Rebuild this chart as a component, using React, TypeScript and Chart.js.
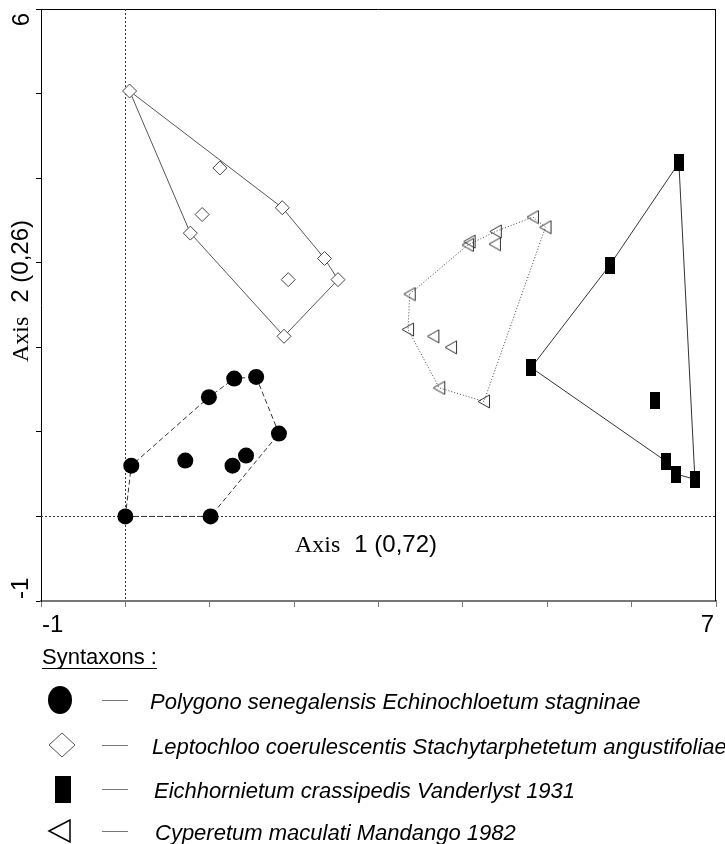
import React, { useEffect, useRef } from "react";
import { Chart, registerables } from "chart.js";

Chart.register(...registerables);

// ---- axis ranges & labels ----
const X_MIN = -1;
const X_MAX = 7;
const Y_MIN = -1;
const Y_MAX = 6;
const X_TICK_LABELS = ["-1", "7"];
const Y_TICK_LABELS = ["6", "-1"];
const AXIS1_TITLE = ["Axis", "1 (0,72)"];
const AXIS2_TITLE = ["Axis", "2 (0,26)"];
const LEGEND_TITLE = "Syntaxons :";

// ---- series ----
const SERIES_NAMES = [
  "Polygono senegalensis Echinochloetum stagninae",
  "Leptochloo coerulescentis Stachytarphetetum angustifoliae",
  "Eichhornietum crassipedis Vanderlyst 1931",
  "Cyperetum maculati Mandango 1982",
];

// Polygono senegalensis Echinochloetum stagninae (filled circles)
const POLY_X = [0.0, 0.07, 0.71, 0.99, 1.29, 1.55, 1.82, 1.43, 1.27, 1.01];
const POLY_Y = [0.0, 0.6, 0.66, 1.41, 1.63, 1.65, 0.98, 0.72, 0.6, 0.0];
const POLY_HULL = [0, 1, 3, 4, 5, 6, 9, 0];

// Leptochloo coerulescentis Stachytarphetetum angustifoliae (open diamonds)
const LEPTO_X = [0.05, 1.12, 0.91, 0.77, 1.86, 2.36, 1.93, 2.52, 1.88];
const LEPTO_Y = [5.03, 4.12, 3.57, 3.35, 3.65, 3.05, 2.8, 2.8, 2.13];
const LEPTO_HULL = [0, 4, 5, 7, 8, 3, 0];

// Eichhornietum crassipedis Vanderlyst 1931 (black rectangles)
const EICH_X = [6.56, 5.74, 4.81, 6.28, 6.41, 6.53, 6.75];
const EICH_Y = [4.18, 2.97, 1.76, 1.37, 0.65, 0.5, 0.44];
const EICH_HULL = [0, 1, 2, 4, 5, 6, 0];

// Cyperetum maculati Mandango 1982 (open left triangles)
const CYPER_X = [3.37, 3.35, 3.65, 3.86, 3.72, 4.25, 4.98, 4.83, 4.39, 4.38, 4.06, 4.08];
const CYPER_Y = [2.63, 2.21, 2.13, 2.0, 1.52, 1.36, 3.42, 3.54, 3.37, 3.22, 3.21, 3.25];
const CYPER_HULL = [0, 10, 8, 7, 6, 5, 4, 1, 0];

const SANS = '"Liberation Sans", Arial, Helvetica, sans-serif';
const SERIF = '"Liberation Serif", "Times New Roman", Times, serif';

const pts = (xs: number[], ys: number[]) => xs.map((x, i) => ({ x, y: ys[i] }));
const hull = (xs: number[], ys: number[], idx: number[]) => idx.map((i) => ({ x: xs[i], y: ys[i] }));

function makeRectCanvas(): HTMLCanvasElement {
  const c = document.createElement("canvas");
  c.width = 10;
  c.height = 17;
  const g = c.getContext("2d")!;
  g.fillStyle = "#000";
  g.fillRect(0, 0, 10, 17);
  return c;
}

function makeTriCanvas(): HTMLCanvasElement {
  const c = document.createElement("canvas");
  c.width = 14;
  c.height = 15;
  const g = c.getContext("2d")!;
  g.strokeStyle = "#333";
  g.lineWidth = 1;
  g.beginPath();
  g.moveTo(1, 7.5);
  g.lineTo(12.5, 1);
  g.lineTo(12.5, 14);
  g.closePath();
  g.stroke();
  return c;
}

const decorPlugin = {
  id: "decor",
  beforeDatasetsDraw(chart: any) {
    const { ctx, chartArea: a, scales } = chart;
    const xs = scales.x;
    const ys = scales.y;
    ctx.save();
    // top & right frame
    ctx.strokeStyle = "#000";
    ctx.lineWidth = 1;
    ctx.beginPath();
    ctx.moveTo(a.left, a.top + 0.5);
    ctx.lineTo(a.right, a.top + 0.5);
    ctx.moveTo(a.right - 0.5, a.top);
    ctx.lineTo(a.right - 0.5, a.bottom);
    ctx.stroke();
    // dotted origin lines
    ctx.setLineDash([2, 2]);
    ctx.strokeStyle = "#333";
    const x0 = Math.round(xs.getPixelForValue(0)) + 0.5;
    const y0 = Math.round(ys.getPixelForValue(0)) + 0.5;
    ctx.beginPath();
    ctx.moveTo(x0, a.top);
    ctx.lineTo(x0, a.bottom);
    ctx.moveTo(a.left, y0);
    ctx.lineTo(a.right, y0);
    ctx.stroke();
    ctx.restore();
  },
  afterDraw(chart: any) {
    const { ctx, scales } = chart;
    const xs = scales.x;
    const ys = scales.y;
    ctx.save();
    ctx.fillStyle = "#000";
    ctx.textBaseline = "alphabetic";

    // x tick labels (inner aligned)
    ctx.font = `24px ${SANS}`;
    ctx.textAlign = "left";
    ctx.fillText(X_TICK_LABELS[0], xs.getPixelForValue(X_MIN) + 1, 632);
    ctx.textAlign = "right";
    ctx.fillText(X_TICK_LABELS[1], xs.getPixelForValue(X_MAX) - 2, 632);

    // y tick labels (rotated)
    const rot = (text: string, x: number, y: number, align: CanvasTextAlign, font: string) => {
      ctx.save();
      ctx.translate(x, y);
      ctx.rotate(-Math.PI / 2);
      ctx.font = font;
      ctx.textAlign = align;
      ctx.fillText(text, 0, 0);
      ctx.restore();
    };
    rot(Y_TICK_LABELS[0], 29, ys.getPixelForValue(Y_MAX) + 4, "right", `24px ${SANS}`);
    rot(Y_TICK_LABELS[1], 28, ys.getPixelForValue(Y_MIN) - 2, "left", `24px ${SANS}`);

    // Axis 1 title
    ctx.textAlign = "left";
    ctx.font = `24px ${SERIF}`;
    const t1x = 295;
    ctx.fillText(AXIS1_TITLE[0], t1x, 552);
    const w1 = ctx.measureText(AXIS1_TITLE[0]).width;
    ctx.font = `24px ${SANS}`;
    ctx.fillText(AXIS1_TITLE[1], t1x + w1 + 14, 552);

    // Axis 2 title (rotated)
    ctx.save();
    ctx.translate(28, 362);
    ctx.rotate(-Math.PI / 2);
    ctx.textAlign = "left";
    ctx.font = `24px ${SERIF}`;
    ctx.fillText(AXIS2_TITLE[0], 0, 0);
    const w2 = ctx.measureText(AXIS2_TITLE[0]).width;
    ctx.font = `24px ${SANS}`;
    ctx.fillText(AXIS2_TITLE[1], w2 + 14, 0);
    ctx.restore();

    // Legend
    ctx.textAlign = "left";
    ctx.font = `22px ${SANS}`;
    ctx.fillText(LEGEND_TITLE, 42, 664);
    const lw = ctx.measureText(LEGEND_TITLE).width;
    ctx.strokeStyle = "#000";
    ctx.lineWidth = 1;
    ctx.beginPath();
    ctx.moveTo(42, 668.5);
    ctx.lineTo(42 + lw, 668.5);
    ctx.stroke();

    const rows = [700, 745, 789, 831];
    const textX = [150, 152, 154, 155];
    // markers
    // circle
    ctx.fillStyle = "#000";
    ctx.beginPath();
    ctx.ellipse(60, rows[0], 12, 14, 0, 0, Math.PI * 2);
    ctx.fill();
    // diamond
    ctx.fillStyle = "#fff";
    ctx.strokeStyle = "#555";
    ctx.lineWidth = 1;
    ctx.beginPath();
    ctx.moveTo(49, rows[1]);
    ctx.lineTo(62, rows[1] - 12);
    ctx.lineTo(75, rows[1]);
    ctx.lineTo(62, rows[1] + 12);
    ctx.closePath();
    ctx.fill();
    ctx.stroke();
    // rectangle
    ctx.fillStyle = "#000";
    ctx.fillRect(55, rows[2] - 13, 16, 27);
    // triangle
    ctx.strokeStyle = "#000";
    ctx.lineWidth = 1.5;
    ctx.beginPath();
    ctx.moveTo(49, rows[3]);
    ctx.lineTo(70, rows[3] - 11);
    ctx.lineTo(70, rows[3] + 11);
    ctx.closePath();
    ctx.stroke();

    // dashes & texts
    ctx.strokeStyle = "#777";
    ctx.lineWidth = 1;
    ctx.fillStyle = "#000";
    ctx.font = `italic 22px ${SANS}`;
    rows.forEach((ry, i) => {
      ctx.beginPath();
      ctx.moveTo(102, Math.round(ry) + 0.5);
      ctx.lineTo(128, Math.round(ry) + 0.5);
      ctx.stroke();
      ctx.fillText(SERIES_NAMES[i], textX[i], ry + 9);
    });
    ctx.restore();
  },
};

export default function App() {
  const ref = useRef<HTMLCanvasElement | null>(null);

  useEffect(() => {
    if (!ref.current) return;
    const rectImg = makeRectCanvas();
    const triImg = makeTriCanvas();

    const hullDs = (data: any[], color: string, dash: number[]) => ({
      type: "scatter" as const,
      data,
      showLine: true,
      fill: false,
      borderColor: color,
      borderWidth: 1,
      borderDash: dash,
      pointRadius: 0,
      pointHoverRadius: 0,
      order: 2,
    });

    const chart = new Chart(ref.current, {
      type: "scatter",
      data: {
        datasets: [
          hullDs(hull(POLY_X, POLY_Y, POLY_HULL), "#333", [5, 3]),
          hullDs(hull(LEPTO_X, LEPTO_Y, LEPTO_HULL), "#555", []),
          hullDs(hull(EICH_X, EICH_Y, EICH_HULL), "#333", []),
          hullDs(hull(CYPER_X, CYPER_Y, CYPER_HULL), "#444", [1, 2]),
          {
            label: SERIES_NAMES[0],
            data: pts(POLY_X, POLY_Y),
            pointStyle: "circle",
            pointRadius: 8,
            backgroundColor: "#000",
            borderColor: "#000",
            borderWidth: 0,
            order: 1,
          },
          {
            label: SERIES_NAMES[1],
            data: pts(LEPTO_X, LEPTO_Y),
            pointStyle: "rectRot",
            pointRadius: 7,
            backgroundColor: "#fff",
            borderColor: "#444",
            borderWidth: 1,
            order: 1,
          },
          {
            label: SERIES_NAMES[2],
            data: pts(EICH_X, EICH_Y),
            pointStyle: rectImg as any,
            pointRadius: 8,
            order: 1,
          },
          {
            label: SERIES_NAMES[3],
            data: pts(CYPER_X, CYPER_Y),
            pointStyle: triImg as any,
            pointRadius: 7,
            order: 1,
          },
        ] as any,
      },
      options: {
        responsive: false,
        animation: false,
        events: [],
        layout: { padding: { top: 8, right: 6, left: 0, bottom: 0 } },
        plugins: {
          legend: { display: false },
          tooltip: { enabled: false },
        },
        scales: {
          x: {
            type: "linear",
            min: X_MIN,
            max: X_MAX,
            ticks: { stepSize: 1, display: false },
            grid: {
              display: true,
              drawOnChartArea: false,
              drawTicks: true,
              tickLength: 6,
              color: "#777",
              lineWidth: 1,
            },
            border: { display: true, color: "#777", width: 2 },
            afterFit: (s: any) => {
              s.height = 243;
            },
          },
          y: {
            type: "linear",
            min: Y_MIN,
            max: Y_MAX,
            ticks: { stepSize: 1, display: false },
            grid: {
              display: true,
              drawOnChartArea: false,
              drawTicks: true,
              tickLength: 5,
              color: "#000",
              lineWidth: 1,
            },
            border: { display: true, color: "#000", width: 1 },
            afterFit: (s: any) => {
              s.width = 41;
            },
          },
        },
      },
      plugins: [decorPlugin],
    });
    return () => chart.destroy();
  }, []);

  return (
    <div style={{ position: "absolute", left: 0, top: 0, width: 725, height: 844, background: "#fff" }}>
      <canvas ref={ref} width={725} height={844} style={{ width: 725, height: 844, display: "block" }} />
    </div>
  );
}
